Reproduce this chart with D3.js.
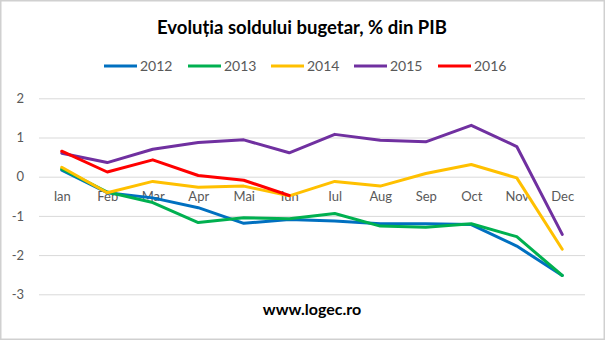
<!DOCTYPE html>
<html><head><meta charset="utf-8">
<script src="https://cdn.jsdelivr.net/npm/d3@7"></script>
<style>
body{margin:0;background:#fff;}
svg{display:block;font-family:Lato, "Open Sans", sans-serif;}
</style></head>
<body><svg id="c" width="605" height="340"></svg>
<script>
const months = ["Ian","Feb","Mar","Apr","Mai","Iun","Iul","Aug","Sep","Oct","Nov","Dec"];
const years = ["2012","2013","2014","2015","2016"];
const colors = ["#0070C0","#00B050","#FFC000","#7030A0","#FF0000"];
const yTicks = [-3,-2,-1,0,1,2];
const v2012 = [0.17,-0.41,-0.54,-0.79,-1.19,-1.09,-1.13,-1.20,-1.20,-1.22,-1.77,-2.52];
const v2013 = [0.20,-0.39,-0.66,-1.17,-1.05,-1.07,-0.94,-1.26,-1.29,-1.20,-1.53,-2.52];
const v2014 = [0.24,-0.41,-0.12,-0.27,-0.24,-0.49,-0.12,-0.24,0.08,0.31,-0.03,-1.85];
const v2015 = [0.60,0.36,0.70,0.87,0.94,0.61,1.08,0.93,0.89,1.31,0.77,-1.47];
const v2016 = [0.65,0.12,0.43,0.03,-0.09,-0.48];
const seriesValues = [v2012,v2013,v2014,v2015,v2016];

const svg = d3.select("#c");
svg.append("rect").attr("x",0.75).attr("y",0.75).attr("width",603.5).attr("height",338.5)
  .attr("fill","#fff").attr("stroke","#d0d0d0").attr("stroke-width",1.5);

const x = d3.scalePoint().domain(months).range([39,585]).padding(0.5);
const y = d3.scaleLinear().domain([-3,2]).range([294.3,98.3]);

// gridlines + y labels
const gy = svg.append("g").attr("transform","translate(39,0)")
  .call(d3.axisLeft(y).tickValues(yTicks).tickSize(-546).tickPadding(15).tickFormat(d => String(d)));
gy.select(".domain").remove();
gy.selectAll("line").attr("stroke","#d9d9d9");
gy.selectAll("text").attr("fill","#595959").style("font-size","13px").style("font-family","Lato, sans-serif");

// category labels
const gx = svg.append("g").attr("transform",`translate(0,${y(0)})`)
  .call(d3.axisBottom(x).tickSize(0).tickPadding(15));
gx.select(".domain").remove();
gx.selectAll("text").attr("fill","#595959").style("font-size","13px").style("font-family","Lato, sans-serif");

// lines
const line = d3.line().x((d,i)=>x(months[i])).y(d=>y(d));
seriesValues.forEach((vals,k)=>{
  svg.append("path").datum(vals).attr("d",line).attr("fill","none")
    .attr("stroke",colors[k]).attr("stroke-width",3).attr("stroke-linejoin","round").attr("stroke-linecap","round");
});

// title
svg.append("text").attr("x",302).attr("y",34).attr("text-anchor","middle")
  .style("font-size","18.5px").style("font-weight","bold").attr("fill","#000")
  .text("Evoluția soldului bugetar, % din PIB");

// legend
const lx = [104,188,271,354,438];
years.forEach((yr,k)=>{
  const g = svg.append("g").attr("transform",`translate(${lx[k]},66)`);
  g.append("line").attr("x1",0).attr("x2",33).attr("y1",0).attr("y2",0)
    .attr("stroke",colors[k]).attr("stroke-width",3);
  g.append("text").attr("x",36).attr("y",5).attr("fill","#595959")
    .style("font-size","14px").text(yr);
});

// footer
svg.append("text").attr("x",312).attr("y",315).attr("text-anchor","middle")
  .style("font-size","16px").style("font-weight","bold").attr("fill","#000")
  .text("www.logec.ro");
</script></body></html>
